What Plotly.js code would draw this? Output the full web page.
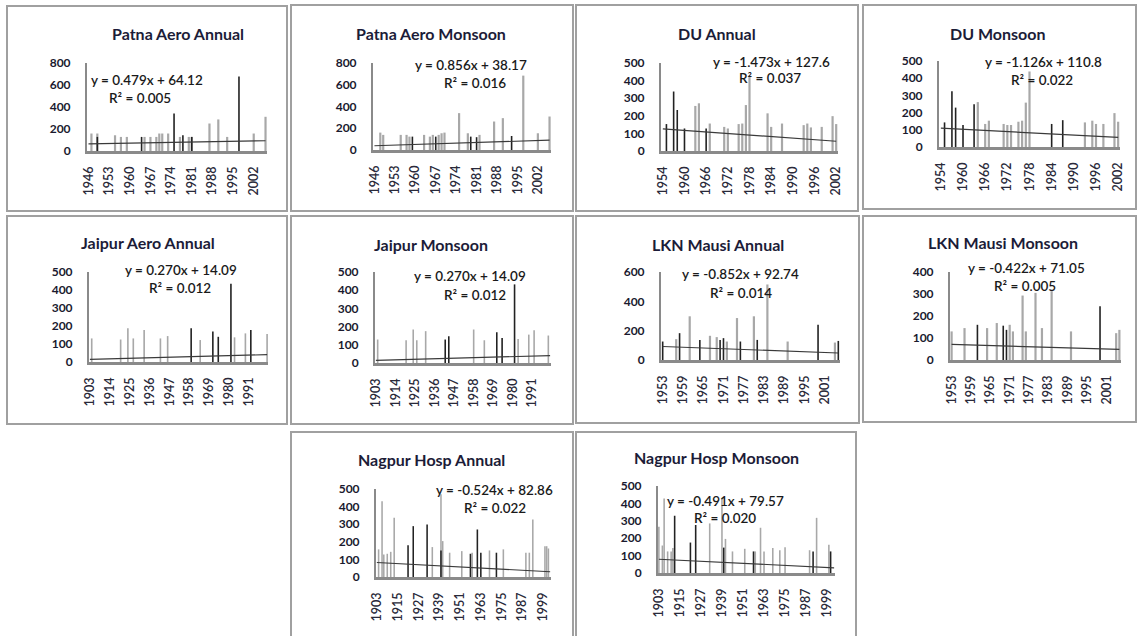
<!DOCTYPE html>
<html>
<head>
<meta charset="utf-8">
<script src="https://cdn.plot.ly/plotly-3.0.1.min.js"></script>
<style>html,body{margin:0;padding:0;background:#fff;}#chart{width:1139px;height:636px;}</style>
</head>
<body>
<div id="chart"></div>
<script>
// ---------- DATA ----------
const patnaTicks  = [1946,1953,1960,1967,1974,1981,1988,1995,2002];
const duTicks     = [1954,1960,1966,1972,1978,1984,1990,1996,2002];
const jaipurTicks = [1903,1914,1925,1936,1947,1958,1969,1980,1991];
const lknTicks    = [1953,1959,1965,1971,1977,1983,1989,1995,2001];
const nagpurTicks = [1903,1915,1927,1939,1951,1963,1975,1987,1999];

const y800 = [0,200,400,600,800];
const y600 = [0,200,400,600];
const y500 = [0,100,200,300,400,500];
const y400 = [0,100,200,300,400];

const patnaAnnualGray  = [[1947,159],[1949,159],[1955,143],[1957,128],[1959,128],[1965,128],[1967,128],[1969,128],[1970,159],[1971,159],[1973,159],[1977,128],[1980,128],[1981,128],[1987,250],[1990,287],[1993,128],[2002,159],[2006,311]];
const patnaAnnualBlack = [[1949,128],[1964,128],[1975,342],[1978,143],[1981,128],[1997,677]];
const patnaAnnualTrend = [64.6, 93.3];

const patnaMonsoonGray  = [[1948,160],[1949,139],[1955,139],[1957,139],[1958,123],[1963,139],[1965,123],[1966,139],[1968,139],[1969,154],[1970,160],[1975,339],[1978,154],[1982,139],[1987,262],[1990,293],[1997,684],[2002,154],[2006,308]];
const patnaMonsoonBlack = [[1959,123],[1967,123],[1979,123],[1981,118],[1993,129]];
const patnaMonsoonTrend = [39.0, 90.4];

const duAnnualGray  = [[1963,256],[1964,271],[1967,156],[1971,137],[1972,128],[1975,153],[1976,156],[1977,261],[1978,424],[1983,214],[1984,137],[1987,156],[1993,147],[1994,156],[1995,134],[1998,137],[2001,198],[2002,153]];
const duAnnualBlack = [[1955,153],[1957,338],[1958,233],[1960,128],[1966,128]];
const duAnnualTrend = [126.1, 55.4];

const duMonsoonGray  = [[1964,261],[1966,134],[1967,153],[1971,134],[1972,128],[1973,128],[1975,147],[1976,153],[1977,258],[1978,439],[1993,143],[1995,153],[1996,134],[1998,134],[2001,197],[2002,147]];
const duMonsoonBlack = [[1955,143],[1957,324],[1958,229],[1960,128],[1963,248],[1984,134],[1987,156]];
const duMonsoonTrend = [109.7, 55.6];

const jaipurAnnualGray  = [[1904,131],[1920,125],[1924,187],[1927,131],[1933,178],[1942,131],[1946,144],[1964,122],[1983,137],[1989,159],[2001,155]];
const jaipurAnnualBlack = [[1959,187],[1971,169],[1974,140],[1981,435],[1992,178]];
const jaipurAnnualTrend = [14.4, 40.8];

const jaipurMonsoonGray  = [[1904,129],[1920,125],[1924,184],[1926,125],[1931,175],[1958,184],[1964,125],[1983,132],[1989,156],[1992,180],[2000,151]];
const jaipurMonsoonBlack = [[1942,129],[1944,147],[1971,169],[1974,138],[1981,432]];
const jaipurMonsoonTrend = [14.4, 40.8];

const lknAnnualGray  = [[1957,142],[1961,298],[1967,165],[1969,156],[1972,126],[1975,286],[1980,298],[1984,515],[1990,126],[2004,119]];
const lknAnnualBlack = [[1953,126],[1958,183],[1964,137],[1970,137],[1971,149],[1976,126],[1981,137],[1999,240],[2005,130]];
const lknAnnualTrend = [91.9, 47.6];

const lknMonsoonGray  = [[1953,130],[1957,145],[1964,145],[1967,168],[1971,160],[1972,130],[1975,293],[1976,130],[1979,305],[1981,145],[1984,313],[1990,130],[2004,122],[2005,137]];
const lknMonsoonBlack = [[1961,160],[1969,156],[1970,137],[1999,244]];
const lknMonsoonTrend = [70.6, 48.7];

const nagpurAnnualGray  = [[1904,157],[1906,430],[1907,128],[1909,132],[1911,143],[1913,336],[1935,170],[1940,470],[1941,204],[1945,138],[1952,147],[1958,138],[1968,151],[1976,157],[1989,138],[1991,138],[1993,326],[2000,175],[2001,175],[2002,162]];
const nagpurAnnualBlack = [[1921,181],[1924,289],[1932,298],[1940,151],[1957,132],[1961,270],[1963,138],[1972,138]];
const nagpurAnnualTrend = [82.3, 29.9];

const nagpurMonsoonGray  = [[1903,266],[1905,158],[1906,428],[1908,124],[1910,124],[1911,143],[1932,285],[1939,428],[1941,196],[1945,124],[1952,139],[1958,124],[1961,260],[1963,124],[1968,143],[1972,131],[1975,148],[1989,131],[1993,317],[2000,162]];
const nagpurMonsoonBlack = [[1912,329],[1921,175],[1924,276],[1940,146],[1957,124],[1991,124],[2001,124]];
const nagpurMonsoonTrend = [79.1, 30.0];

// ---------- PANEL CONFIG (layout in page pixels) ----------
const panels = [
 {title:'Patna Aero Annual', eq:'y = 0.479x + 64.12', r2:'R² = 0.005', gray:patnaAnnualGray, black:patnaAnnualBlack, trend:patnaAnnualTrend, span:[1946,2006], ticks:patnaTicks, yt:y800,
  box:[7,6,287,211], plot:[87,63,267,151], t:[178,33], e:[147,80], r:[140,98]},
 {title:'Patna Aero Monsoon', eq:'y = 0.856x + 38.17', r2:'R² = 0.016', gray:patnaMonsoonGray, black:patnaMonsoonBlack, trend:patnaMonsoonTrend, span:[1946,2006], ticks:patnaTicks, yt:y800,
  box:[291,5,573,211], plot:[373,63,551,150], t:[431,33], e:[471,65], r:[475,83]},
 {title:'DU Annual', eq:'y = -1.473x + 127.6', r2:'R² = 0.037', gray:duAnnualGray, black:duAnnualBlack, trend:duAnnualTrend, span:[1954,2002], ticks:duTicks, yt:y500,
  box:[576,5,858,211], plot:[661,63,838,151], t:[717,33], e:[771,62], r:[770,78]},
 {title:'DU Monsoon', eq:'y = -1.126x + 110.8', r2:'R² = 0.022', gray:duMonsoonGray, black:duMonsoonBlack, trend:duMonsoonTrend, span:[1954,2002], ticks:duTicks, yt:y500,
  box:[863,5,1136,209], plot:[939,61,1120,147], t:[997,33], e:[1043,62], r:[1042,80]},
 {title:'Jaipur Aero Annual', eq:'y = 0.270x + 14.09', r2:'R² = 0.012', gray:jaipurAnnualGray, black:jaipurAnnualBlack, trend:jaipurAnnualTrend, span:[1903,2001], ticks:jaipurTicks, yt:y500,
  box:[7,216,287,424], plot:[89,272,268,362], t:[148,243], e:[181,270], r:[180,288]},
 {title:'Jaipur Monsoon', eq:'y = 0.270x + 14.09', r2:'R² = 0.012', gray:jaipurMonsoonGray, black:jaipurMonsoonBlack, trend:jaipurMonsoonTrend, span:[1903,2001], ticks:jaipurTicks, yt:y500,
  box:[291,216,573,424], plot:[375,272,551,363], t:[431,244], e:[470,276], r:[475,295]},
 {title:'LKN Mausi Annual', eq:'y = -0.852x + 92.74', r2:'R² = 0.014', gray:lknAnnualGray, black:lknAnnualBlack, trend:lknAnnualTrend, span:[1953,2005], ticks:lknTicks, yt:y600,
  box:[576,216,859,423], plot:[661,272,840,360], t:[718,244], e:[740,274], r:[741,293]},
 {title:'LKN Mausi Monsoon', eq:'y = -0.422x + 71.05', r2:'R² = 0.005', gray:lknMonsoonGray, black:lknMonsoonBlack, trend:lknMonsoonTrend, span:[1953,2005], ticks:lknTicks, yt:y400,
  box:[863,216,1136,422], plot:[950,272,1121,360], t:[1003,242], e:[1026,268], r:[1025,286]},
 {title:'Nagpur Hosp Annual', eq:'y = -0.524x + 82.86', r2:'R² = 0.022', gray:nagpurAnnualGray, black:nagpurAnnualBlack, trend:nagpurAnnualTrend, span:[1903,2003], ticks:nagpurTicks, yt:y500,
  box:[291,432,573,640], plot:[376,489,551,577], t:[431,459], e:[494,490], r:[495,508]},
 {title:'Nagpur Hosp Monsoon', eq:'y = -0.491x + 79.57', r2:'R² = 0.020', gray:nagpurMonsoonGray, black:nagpurMonsoonBlack, trend:nagpurMonsoonTrend, span:[1903,2003], ticks:nagpurTicks, yt:y500,
  box:[576,432,856,640], plot:[658,486,835,573], t:[716,457], e:[725,501], r:[725,518]}
];

// ---------- BUILD ----------
const W = 1139, H = 636;
const px = x => x / W, py = y => 1 - y / H;
const FONT = 'Lato, "Open Sans", sans-serif';
const traces = [], shapes = [], annotations = [];
const layout = {
  width: W, height: H, margin:{l:0,r:0,t:0,b:0},
  paper_bgcolor:'#ffffff', plot_bgcolor:'rgba(0,0,0,0)',
  showlegend:false, barmode:'overlay', hovermode:false,
  font:{family:FONT, color:'#1a1a1a'}
};

panels.forEach((p, i) => {
  const n = i + 1, xs = n === 1 ? 'x' : 'x' + n, ys = n === 1 ? 'y' : 'y' + n;
  const [x0, y0, x1, y1] = p.plot;
  const nYears = p.span[1] - p.span[0] + 1;
  const pxPerYear = (x1 - x0) / nYears;
  const ymax = p.yt[p.yt.length - 1];

  traces.push({type:'bar', xaxis:xs, yaxis:ys, x:p.gray.map(d=>d[0]), y:p.gray.map(d=>d[1]),
    width: Math.min(0.9, 2.2 / pxPerYear), marker:{color:'#a8a8a8', line:{width:0}}});
  traces.push({type:'bar', xaxis:xs, yaxis:ys, x:p.black.map(d=>d[0]), y:p.black.map(d=>d[1]),
    width: Math.min(0.9, 1.6 / pxPerYear), marker:{color:'#222222', line:{width:0}}});
  traces.push({type:'scatter', mode:'lines', xaxis:xs, yaxis:ys, x:p.span, y:p.trend,
    line:{color:'#3a3a3a', width:1.2}});

  const xa = {
    domain:[px(x0), px(x1)], anchor:ys, range:[p.span[0]-0.5, p.span[1]+0.5],
    tickmode:'array', tickvals:p.ticks, ticktext:p.ticks.map(String), tickangle:-90,
    tickfont:{family:FONT, size:12.5, color:'#2a2a3a', weight:600}, ticks:'', ticklabelstandoff:8,
    showgrid:false, zeroline:false, showline:true, linecolor:'#8a8a8a', linewidth:2.5, fixedrange:true
  };
  const ya = {
    domain:[py(y1), py(y0)], anchor:xs, range:[0, ymax],
    tickmode:'array', tickvals:p.yt, ticktext:p.yt.map(v => '<b>' + v + '</b>'),
    tickfont:{family:FONT, size:12, color:'#1a1a2e'}, ticks:'', ticklabelstandoff:12,
    showgrid:false, zeroline:false, showline:true, linecolor:'#8a8a8a', linewidth:2, fixedrange:true
  };
  layout['xaxis' + (n === 1 ? '' : n)] = xa;
  layout['yaxis' + (n === 1 ? '' : n)] = ya;

  shapes.push({type:'rect', xref:'paper', yref:'paper', x0:px(p.box[0]), x1:px(p.box[2]), y0:py(p.box[3]), y1:py(p.box[1]),
    line:{color:'#a0a0a0', width:2}, fillcolor:'rgba(0,0,0,0)', layer:'below'});

  annotations.push({xref:'paper', yref:'paper', x:px(p.t[0]), y:py(p.t[1]), text:'<b>'+p.title+'</b>', showarrow:false,
    xanchor:'center', yanchor:'middle', font:{family:FONT, size:16, color:'#1c1c38'}});
  annotations.push({xref:'paper', yref:'paper', x:px(p.e[0]), y:py(p.e[1]), text:p.eq, showarrow:false,
    xanchor:'center', yanchor:'middle', font:{family:FONT, size:13.5, color:'#1a1a1a', weight:600}});
  annotations.push({xref:'paper', yref:'paper', x:px(p.r[0]), y:py(p.r[1]), text:p.r2, showarrow:false,
    xanchor:'center', yanchor:'middle', font:{family:FONT, size:13.5, color:'#1a1a1a', weight:600}});
});

layout.shapes = shapes;
layout.annotations = annotations;
Plotly.newPlot('chart', traces, layout, {displayModeBar:false, staticPlot:true});
</script>
</body>
</html>
